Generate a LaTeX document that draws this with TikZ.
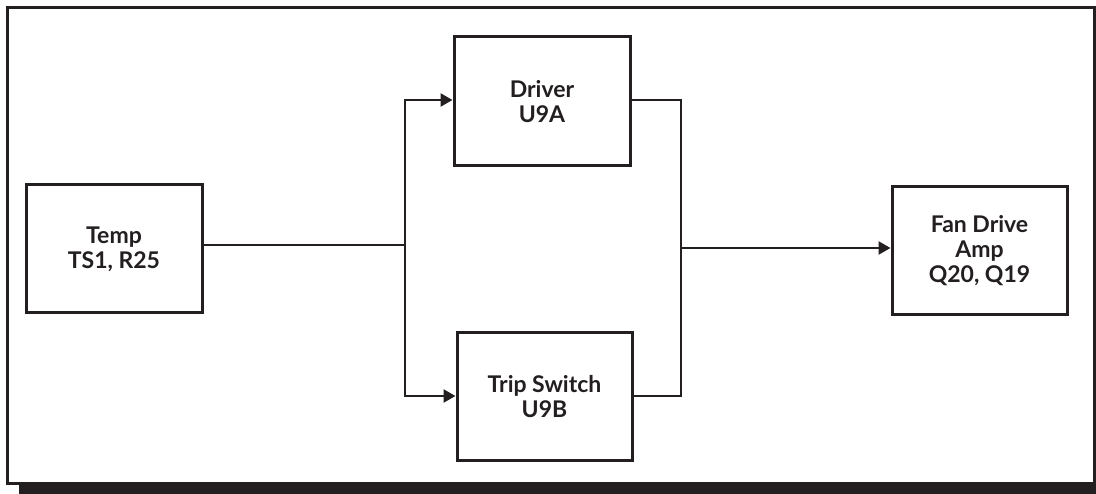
\documentclass[tikz,border=0pt]{standalone}
\usepackage{fontspec}
\setmainfont{Lato}
\usetikzlibrary{arrows.meta}
\definecolor{ink}{HTML}{231F20}
\begin{document}
\begin{tikzpicture}[x=1pt,y=-1pt,
  blk/.style={draw=ink,line width=3pt,fill=white,inner sep=0pt,
    font=\fontsize{23}{25}\selectfont\bfseries,text=ink,align=center},
  wire/.style={draw=ink,line width=2.5pt},
  arr/.style={wire,-{Triangle[length=12pt,width=13pt]}}]
\useasboundingbox (0,0) rectangle (1096,494);
\fill[ink] (19,484) rectangle (1096,494);
\draw[ink,line width=3pt,fill=white] (7.5,7.5) rectangle (1094.5,483);
\node[blk,minimum width=176pt,minimum height=128pt] (temp) at (114,249) {Temp\\TS1, R25};
\node[blk,minimum width=176pt,minimum height=129pt] (drv) at (542,101.5) {Driver\\U9A};
\node[blk,minimum width=175pt,minimum height=128pt] (trip) at (544.5,397) {Trip Switch\\U9B};
\node[blk,minimum width=175pt,minimum height=128pt] (fan) at (979.5,251) {Fan Drive\\Amp\\Q20, Q19};
\coordinate (j1) at (405,245);
\coordinate (j2) at (681,248);
\draw[wire] (temp.east |- j1) -- (j1);
\draw[arr] (j1) |- (drv.west |- 0,100);
\draw[arr] (j1) |- (trip.west |- 0,396);
\draw[wire] (drv.east |- 0,100) -| (j2);
\draw[wire] (trip.east |- 0,396) -| (j2);
\draw[arr] (j2) -- (fan.west |- j2);
\end{tikzpicture}
\end{document}
